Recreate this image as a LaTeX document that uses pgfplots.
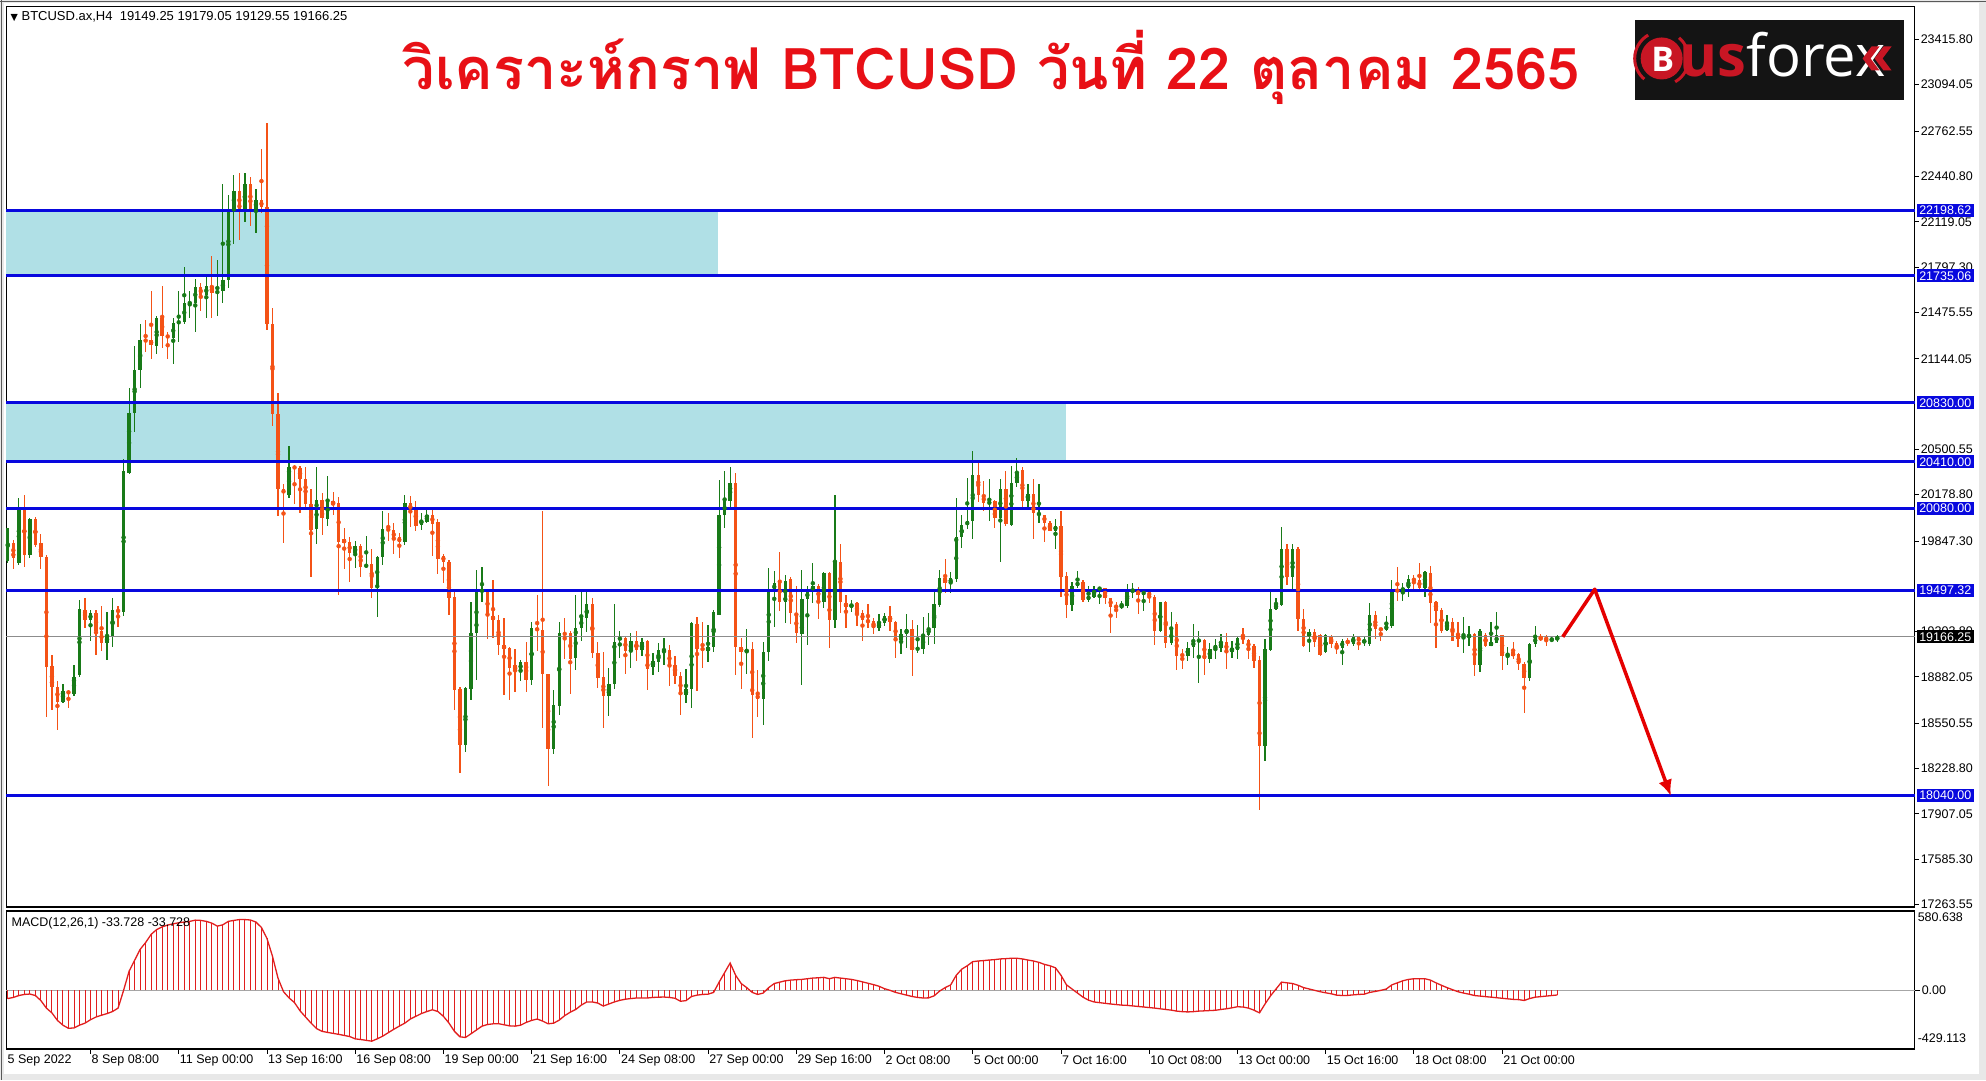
\documentclass[border=0pt]{standalone}
\usepackage{fontspec}
\setmainfont{Liberation Sans}
\newfontfamily\thaifont[Script=Thai]{Loma}
\newfontfamily\symfont{DejaVu Sans}
\newfontfamily\logofont{Open Sans}
\usepackage{graphicx}
\usepackage{pgfplots}
\pgfplotsset{compat=1.18}
\usepackage{pgfplotstable}
\usetikzlibrary{arrows.meta}

\definecolor{upc}{RGB}{24,122,24}
\definecolor{dnc}{RGB}{244,82,22}
\definecolor{lvl}{RGB}{8,8,222}
\definecolor{zone}{RGB}{176,224,230}
\definecolor{macdc}{RGB}{225,30,30}
\definecolor{titlec}{RGB}{232,16,22}
\definecolor{logored}{RGB}{200,22,36}
\definecolor{pricegray}{RGB}{140,140,140}

\newcommand{\tickfont}{\fontsize{12.5}{13}\selectfont}

% H4 candles, index 16 = 8 Sep 08:00
\pgfplotstableread{
i o h l c
1 19706 19939 19692 19939
2 19837 19852 19648 19727
3 19692 20157 19677 20070
4 20084 20172 19663 19750
5 19750 20012 19727 20003
6 20003 20018 19808 19823
7 19837 19895 19648 19733
8 19733 19748 18593 18950
9 18956 19038 18645 18811
10 18811 18849 18500 18703
11 18703 18834 18694 18782
12 18782 18790 18660 18761
13 18761 18965 18747 18878
14 18892 19430 18878 19363
15 19358 19445 19227 19285
16 19285 19358 19139 19334
17 19334 19358 19038 19206
18 19206 19387 19067 19125
19 19125 19343 19003 19169
20 19169 19445 19096 19358
21 19358 19387 19235 19343
22 19343 20433 19314 20346
23 20332 20934 20323 20759
24 20759 21233 20622 21065
25 21065 21393 20934 21277
26 21277 21422 21190 21271
27 21277 21626 21146 21242
28 21233 21451 21175 21437
29 21437 21661 21224 21306
30 21306 21335 21146 21300
31 21291 21437 21108 21399
32 21399 21626 21262 21408
33 21408 21800 21393 21538
34 21538 21626 21437 21544
35 21544 21713 21335 21655
36 21655 21684 21486 21597
37 21597 21727 21437 21661
38 21661 21873 21437 21611
39 21611 21844 21451 21626
40 21626 22388 21538 21707
41 21707 22309 21649 22207
42 22207 22454 21960 22338
43 22338 22469 21989 22207
44 22207 22469 22120 22388
45 22388 22440 22091 22207
46 22207 22353 22039 22271
47 22271 22638 22178 22222
48 22222 22824 21349 21393
49 21393 21509 20666 20753
50 20753 20904 20026 20215
51 20215 20250 19837 20186
52 20172 20526 20157 20375
53 20375 20390 20113 20367
54 20367 20381 20050 20288
55 20288 20375 20084 20113
56 20113 20215 19590 19924
57 19933 20375 19829 20137
58 20141 20189 19892 20011
59 20006 20313 19958 20134
60 20134 20194 20034 20106
61 20118 20158 19464 19844
62 19861 19939 19649 19832
63 19839 19880 19559 19761
64 19761 19849 19659 19809
65 19809 19825 19595 19666
66 19666 19880 19654 19678
67 19683 19790 19440 19516
68 19516 19742 19310 19737
69 19737 20058 19678 19935
70 19935 20046 19849 19923
71 19923 19975 19754 19863
72 19873 19904 19725 19840
73 19840 20177 19820 20118
74 20118 20165 19951 20063
75 20082 20134 19916 19958
76 19963 20046 19927 19999
77 19982 20070 19975 20034
78 20034 20070 19744 19968
79 19980 20006 19611 19721
80 19742 19754 19547 19702
81 19702 19714 19321 19440
82 19447 19483 18644 18791
83 18798 18810 18200 18394
84 18394 18810 18347 18803
85 18798 19416 18715 19191
86 19191 19642 18858 19492
87 19487 19666 19416 19500
88 19488 19500 19149 19314
89 19314 19571 19155 19286
90 19286 19321 19036 19107
91 19107 19298 18751 19079
92 19084 19095 18715 18946
93 18965 19079 18775 18922
94 18922 19000 18851 18989
95 18989 19126 18775 18858
96 18858 19269 18822 19226
97 19226 19464 19064 19214
98 19214 20058 18518 18905
99 18905 18905 18105 18370
100 18370 18787 18335 18684
101 18675 19269 18608 19191
102 19191 19298 19012 19184
103 19191 19207 18763 19012
104 19017 19466 18928 19226
105 19231 19488 19136 19298
106 19298 19483 19202 19397
107 19397 19440 19017 19048
108 19048 19131 18803 18874
109 18882 19060 18518 18744
110 18744 18941 18603 18834
111 18834 19397 18794 19131
112 19148 19207 19017 19159
113 19155 19167 18904 19064
114 19064 19190 18946 19136
115 19136 19207 18993 19072
116 19072 19160 19031 19131
117 19136 19143 18786 18936
118 18953 19048 18898 18993
119 18989 19119 18917 19072
120 19070 19160 18965 19074
121 19072 19107 18817 18953
122 18965 19031 18834 18889
123 18889 18917 18613 18751
124 18751 18936 18699 18794
125 18794 19274 18661 19262
126 19255 19309 18779 19079
127 19081 19269 18946 19077
128 19064 19250 18984 19095
129 19095 19357 19055 19340
130 19321 20284 19321 20034
131 20034 20348 19939 20130
132 20130 20372 20070 20260
133 20260 20332 18898 19096
134 19096 19155 18794 19055
135 19055 19221 18905 19079
136 19079 19126 18447 18751
137 18756 18929 18596 18722
138 18722 19126 18542 19055
139 19055 19654 18993 19492
140 19492 19635 19238 19552
141 19564 19768 19350 19416
142 19416 19607 19262 19564
143 19578 19595 19255 19333
144 19333 19531 19119 19190
145 19190 19642 18822 19435
146 19435 19531 19107 19492
147 19492 19690 19405 19531
148 19531 19540 19293 19412
149 19412 19626 19374 19618
150 19618 19626 19088 19286
151 19286 20177 19226 19702
152 19702 19825 19333 19412
153 19405 19464 19226 19381
154 19381 19428 19345 19398
155 19405 19412 19245 19326
156 19333 19357 19136 19286
157 19286 19397 19231 19269
158 19279 19302 19183 19231
159 19231 19326 19207 19262
160 19262 19333 19245 19317
161 19317 19388 19207 19269
162 19269 19279 19017 19143
163 19143 19221 19041 19190
164 19183 19326 19088 19221
165 19221 19286 18889 19072
166 19079 19250 19048 19084
167 19079 19309 19041 19178
168 19178 19333 19107 19231
169 19231 19492 19112 19397
170 19392 19642 19381 19583
171 19583 19721 19476 19547
172 19547 19630 19476 19583
173 19578 20153 19559 19873
174 19873 20034 19801 19963
175 19963 20296 19935 19987
176 19987 20486 19863 20320
177 20320 20403 20125 20172
178 20172 20272 20063 20118
179 20118 20291 19992 20122
180 20130 20141 19939 20011
181 20011 20291 19697 20220
182 20220 20344 19958 19968
183 19963 20379 19958 20260
184 20260 20439 20229 20339
185 20356 20372 20077 20134
186 20134 20253 20077 20182
187 20182 20291 19863 20046
188 20034 20253 19975 20046
189 20034 20034 19840 19975
190 19975 19992 19916 19920
191 19920 20006 19792 19958
192 19958 20058 19452 19595
193 19602 19630 19302 19393
194 19393 19559 19350 19531
195 19531 19635 19512 19554
196 19554 19571 19412 19428
197 19428 19531 19416 19459
198 19452 19531 19440 19507
199 19507 19516 19398 19512
200 19512 19516 19398 19445
201 19440 19445 19190 19381
202 19388 19416 19298 19374
203 19374 19421 19364 19393
204 19388 19540 19369 19492
205 19492 19547 19440 19500
206 19500 19524 19326 19464
207 19464 19492 19350 19492
208 19488 19500 19405 19452
209 19452 19464 19107 19207
210 19207 19416 19202 19412
211 19412 19421 19088 19119
212 19119 19345 19107 19226
213 19255 19274 18929 19031
214 19041 19083 18936 19031
215 19031 19126 18993 19088
216 19095 19255 19017 19136
217 19136 19207 18841 19143
218 19143 19150 18898 19008
219 19008 19119 18977 19079
220 19079 19150 19008 19107
221 19084 19190 19060 19131
222 19131 19190 18936 19060
223 19060 19136 19017 19084
224 19072 19167 19012 19155
225 19166 19232 19115 19150
226 19143 19150 19010 19080
227 19104 19115 18947 18994
228 19003 19027 17935 18388
229 18388 19150 18280 19080
230 19069 19493 19069 19367
231 19367 19441 19360 19400
232 19395 19950 19383 19791
233 19791 19826 19535 19593
234 19593 19826 19500 19791
235 19791 19803 19208 19290
236 19290 19367 19092 19104
237 19162 19220 19057 19204
238 19204 19220 19092 19127
239 19180 19185 19027 19034
240 19057 19185 19050 19180
241 19173 19180 19087 19115
242 19120 19134 19045 19080
243 19087 19150 18964 19139
244 19139 19157 19104 19120
245 19115 19185 19104 19162
246 19162 19166 19073 19134
247 19127 19166 19104 19139
248 19115 19406 19104 19320
249 19320 19348 19150 19220
250 19227 19232 19139 19213
251 19213 19313 19208 19250
252 19243 19570 19232 19493
253 19500 19663 19418 19490
254 19493 19546 19418 19516
255 19511 19609 19453 19581
256 19581 19609 19500 19563
257 19570 19693 19507 19516
258 19516 19632 19453 19628
259 19623 19670 19267 19406
260 19413 19423 19087 19353
261 19360 19371 19197 19208
262 19213 19320 19208 19274
263 19274 19302 19134 19139
264 19180 19274 19092 19150
265 19150 19306 19050 19173
266 19162 19243 19104 19180
267 19185 19197 18887 18964
268 18964 19220 18917 19208
269 19180 19190 19092 19104
270 19104 19274 19104 19127
271 19120 19344 19120 19180
272 19180 19180 18929 19027
273 19034 19097 18964 19045
274 19057 19127 19010 19027
275 19041 19050 18929 18971
276 18971 18987 18621 18871
277 18871 19120 18854 19115
278 19115 19243 19092 19166
279 19166 19185 19134 19143
280 19166 19180 19104 19139
281 19139 19162 19127 19157
282 19149.25 19179.05 19129.55 19166.25
}\candles

% MACD(12,26,1) histogram, one value per candle
\pgfplotstableread{
i v
1 -60
2 -52
3 -38
4 -30
5 -27
6 -38
7 -75
8 -130
9 -165
10 -220
11 -255
12 -278
13 -275
14 -255
15 -240
16 -215
17 -195
18 -182
19 -170
20 -155
21 -130
22 0
23 140
24 220
25 300
26 350
27 410
28 445
29 465
30 478
31 487
32 495
33 500
34 505
35 514
36 512
37 505
38 492
39 470
40 480
41 505
42 512
43 518
44 518
45 515
46 500
47 460
48 380
49 250
50 90
51 -10
52 -55
53 -90
54 -150
55 -195
56 -240
57 -280
58 -300
59 -308
60 -315
61 -322
62 -330
63 -338
64 -355
65 -360
66 -366
67 -372
68 -355
69 -335
70 -310
71 -285
72 -262
73 -240
74 -210
75 -190
76 -170
77 -155
78 -142
79 -155
80 -190
81 -239
82 -300
83 -340
84 -345
85 -318
86 -290
87 -262
88 -250
89 -245
90 -244
91 -252
92 -260
93 -262
94 -255
95 -235
96 -220
97 -210
98 -225
99 -245
100 -240
101 -218
102 -185
103 -160
104 -140
105 -108
106 -85
107 -85
108 -93
109 -115
110 -100
111 -85
112 -73
113 -65
114 -60
115 -56
116 -56
117 -56
118 -52
119 -50
120 -49
121 -52
122 -58
123 -80
124 -75
125 -45
126 -35
127 -30
128 -28
129 -15
130 60
131 130
132 200
133 110
134 50
135 20
136 -15
137 -30
138 -20
139 20
140 50
141 60
142 70
143 75
144 78
145 80
146 85
147 90
148 92
149 95
150 85
151 95
152 90
153 85
154 80
155 72
156 62
157 52
158 42
159 30
160 12
161 0
162 -15
163 -25
164 -35
165 -45
166 -52
167 -56
168 -55
169 -40
170 -5
171 20
172 40
173 110
174 155
175 180
176 210
177 215
178 218
179 222
180 225
181 230
182 232
183 235
184 235
185 230
186 222
187 215
188 205
189 190
190 180
191 165
192 110
193 40
194 10
195 -20
196 -50
197 -72
198 -85
199 -90
200 -95
201 -100
202 -104
203 -108
204 -110
205 -114
206 -118
207 -122
208 -126
209 -130
210 -135
211 -140
212 -145
213 -152
214 -156
215 -158
216 -156
217 -152
218 -150
219 -148
220 -146
221 -140
222 -135
223 -128
224 -120
225 -122
226 -130
227 -145
228 -165
229 -100
230 -40
231 10
232 60
233 55
234 50
235 37
236 20
237 10
238 0
239 -10
240 -18
241 -25
242 -35
243 -38
244 -37
245 -33
246 -30
247 -28
248 -15
249 -8
250 0
251 10
252 40
253 55
254 70
255 80
256 85
257 85
258 85
259 75
260 55
261 37
262 20
263 5
264 -10
265 -20
266 -28
267 -38
268 -42
269 -46
270 -50
271 -54
272 -58
273 -62
274 -66
275 -68
276 -74
277 -60
278 -50
279 -46
280 -42
281 -38
282 -34
}\macd

\tikzset{
  lvlbox/.style={anchor=west, fill=#1, text=white, font=\tickfont, inner xsep=2.5pt, inner ysep=0pt, minimum height=13pt, xshift=2pt},
}

\begin{document}
\begin{tikzpicture}
% window frame (all sizes in pt, origin at lower left of the 1986x1080 picture)
\fill[black!9] (0pt,0pt) rectangle (1986pt,1080pt);
\fill[white] (4pt,6pt) rectangle (1979pt,1077pt);
\draw[black!65, line width=1pt] (1.5pt,0pt) -- (1.5pt,1080pt);
\draw[black!65, line width=1pt] (0pt,1078.5pt) -- (1986pt,1078.5pt);

% ---------- price panel ----------
\begin{scope}[shift={(6pt,173pt)}]
\begin{axis}[
    at={(0pt,0pt)}, anchor=south west, scale only axis,
    width=1909pt, height=901pt,
    xmin=0.764, xmax=346.8, ymin=17244, ymax=23650.4,
    xtick=\empty,
    scaled y ticks=false,
    ytick pos=right, yticklabel pos=right,
    ytick={23415.80,23094.05,22762.55,22440.80,22119.05,21797.30,21475.55,21144.05,20500.55,20178.80,19847.30,19203.80,18882.05,18550.55,18228.80,17907.05,17585.30,17263.55},
    yticklabels={23415.80,23094.05,22762.55,22440.80,22119.05,21797.30,21475.55,21144.05,20500.55,20178.80,19847.30,19203.80,18882.05,18550.55,18228.80,17907.05,17585.30,17263.55},
    yticklabel style={font=\tickfont, anchor=west, inner sep=0pt, xshift=2pt},
    tick align=outside, major tick length=4pt,
    every tick/.style={black, line width=0.8pt},
    axis line style={black, line width=1.3pt},
    clip=false,
]
% supply / demand zones
\fill[zone] (axis cs:0.764,21735.06) rectangle (axis cs:129.8,22198.62);
\fill[zone] (axis cs:0.764,20410) rectangle (axis cs:192.9,20830);

% wicks
\addplot[upc, only marks, mark=none, forget plot,
    restrict expr to domain={\thisrow{c}-\thisrow{o}}{0:99999},
    error bars/y dir=both, error bars/y explicit, error bars/error mark=none,
    error bars/error bar style={line width=1.2pt, upc}]
    table[x=i, y expr={(\thisrow{h}+\thisrow{l})/2}, y error expr={(\thisrow{h}-\thisrow{l})/2}] {\candles};
\addplot[dnc, only marks, mark=none, forget plot,
    restrict expr to domain={\thisrow{c}-\thisrow{o}}{-99999:-0.001},
    error bars/y dir=both, error bars/y explicit, error bars/error mark=none,
    error bars/error bar style={line width=1.2pt, dnc}]
    table[x=i, y expr={(\thisrow{h}+\thisrow{l})/2}, y error expr={(\thisrow{h}-\thisrow{l})/2}] {\candles};
% bodies
\addplot[upc, only marks, mark=none, forget plot,
    restrict expr to domain={\thisrow{c}-\thisrow{o}}{0:99999},
    error bars/y dir=both, error bars/y explicit, error bars/error mark=none,
    error bars/error bar style={line width=3.4pt, upc}]
    table[x=i, y expr={(\thisrow{o}+\thisrow{c})/2}, y error expr={max(abs(\thisrow{c}-\thisrow{o})/2,5)}] {\candles};
\addplot[dnc, only marks, mark=none, forget plot,
    restrict expr to domain={\thisrow{c}-\thisrow{o}}{-99999:-0.001},
    error bars/y dir=both, error bars/y explicit, error bars/error mark=none,
    error bars/error bar style={line width=3.4pt, dnc}]
    table[x=i, y expr={(\thisrow{o}+\thisrow{c})/2}, y error expr={max(abs(\thisrow{c}-\thisrow{o})/2,5)}] {\candles};

% current price line
\addplot[pricegray, line width=0.9pt] coordinates {(0.764,19166.25) (346.8,19166.25)};
% horizontal levels
\addplot[lvl, line width=3pt] coordinates {(0.764,22198.62) (346.8,22198.62)};
\addplot[lvl, line width=3pt] coordinates {(0.764,21735.06) (346.8,21735.06)};
\addplot[lvl, line width=3pt] coordinates {(0.764,20830) (346.8,20830)};
\addplot[lvl, line width=3pt] coordinates {(0.764,20410) (346.8,20410)};
\addplot[lvl, line width=3pt] coordinates {(0.764,20080) (346.8,20080)};
\addplot[lvl, line width=3pt] coordinates {(0.764,19497.32) (346.8,19497.32)};
\addplot[lvl, line width=3pt] coordinates {(0.764,18040) (346.8,18040)};
% projected path
\addplot[red!90!black, line width=3.5pt, line join=round, -{Latex[length=16pt,width=14pt]}]
    coordinates {(283,19166.25) (288.8,19505) (302.6,18035)};

\coordinate (b1) at (axis cs:346.8,22198.62);
\coordinate (b2) at (axis cs:346.8,21735.06);
\coordinate (b3) at (axis cs:346.8,20830);
\coordinate (b4) at (axis cs:346.8,20410);
\coordinate (b5) at (axis cs:346.8,20080);
\coordinate (b6) at (axis cs:346.8,19497.32);
\coordinate (b7) at (axis cs:346.8,18040);
\coordinate (b8) at (axis cs:346.8,19166.25);
\end{axis}
\end{scope}

\node[lvlbox=lvl] at (b1) {22198.62};
\node[lvlbox=lvl] at (b2) {21735.06};
\node[lvlbox=lvl] at (b3) {20830.00};
\node[lvlbox=lvl] at (b4) {20410.00};
\node[lvlbox=lvl] at (b5) {20080.00};
\node[lvlbox=lvl] at (b6) {19497.32};
\node[lvlbox=lvl] at (b7) {18040.00};
\node[lvlbox=black] at (b8) {19166.25};

% header
\node[anchor=west, inner sep=0pt, font=\fontsize{13}{14}\selectfont] at (10pt,1064pt)
    {{\symfont\fontsize{9.5}{10}\selectfont ▼}\ BTCUSD.ax,H4\ \ 19149.25 19179.05 19129.55 19166.25};

% title
\node[anchor=base, inner sep=0pt] at (991pt,991pt)
    {\resizebox{1177pt}{!}{\color{titlec}\thaifont\bfseries วิเคราะห์กราฟ BTCUSD วันที่ 22 ตุลาคม 2565}};

% logo
\fill[black!92] (1635pt,980pt) rectangle (1904pt,1060pt);
\draw[logored, line width=3pt] (1662pt,1022pt) ++(120:27pt) arc (120:230:27pt);
\draw[logored, line width=3pt] (1662pt,1022pt) ++(-60:27pt) arc (-60:50:27pt);
\fill[logored] (1662pt,1022pt) circle (21pt);
\node[text=white, font=\logofont\bfseries\fontsize{34}{34}\selectfont, inner sep=0pt] at (1663pt,1021pt) {B};
\node[anchor=base west, inner sep=0pt, font=\logofont\fontsize{58}{58}\selectfont] at (1680pt,1004pt)
    {{\bfseries\color{logored}us}\color{white}forex};
\fill[logored] (1872pt,1034pt) -- (1880pt,1034pt) -- (1871pt,1022pt) -- (1880pt,1010pt) -- (1872pt,1010pt) -- (1863pt,1022pt) -- cycle;
\fill[logored] (1884pt,1034pt) -- (1892pt,1034pt) -- (1883pt,1022pt) -- (1892pt,1010pt) -- (1884pt,1010pt) -- (1875pt,1022pt) -- cycle;

% ---------- MACD panel ----------
\begin{scope}[shift={(6pt,31pt)}]
\begin{axis}[
    at={(0pt,0pt)}, anchor=south west, scale only axis,
    width=1909pt, height=138pt,
    xmin=0.764, xmax=346.8, ymin=-429.113, ymax=580.638,
    scaled y ticks=false,
    xtick={16,32,...,272},
    xticklabels={8 Sep 08:00,11 Sep 00:00,13 Sep 16:00,16 Sep 08:00,19 Sep 00:00,21 Sep 16:00,24 Sep 08:00,27 Sep 00:00,29 Sep 16:00,2 Oct 08:00,5 Oct 00:00,7 Oct 16:00,10 Oct 08:00,13 Oct 00:00,15 Oct 16:00,18 Oct 08:00,21 Oct 00:00},
    extra x ticks={0.764}, extra x tick labels={5 Sep 2022},
    extra x tick style={major tick style={draw=none}},
    xtick pos=bottom,
    xticklabel style={font=\tickfont, anchor=west, inner sep=0pt, xshift=1pt, yshift=-6pt},
    ytick={0}, yticklabels={0.00},
    ytick pos=right, yticklabel pos=right,
    yticklabel style={font=\tickfont, anchor=west, inner sep=0pt, xshift=2pt},
    tick align=outside, major tick length=5pt,
    every tick/.style={black, line width=0.8pt},
    axis line style={black, line width=1.3pt},
    clip=false,
]
\addplot[black!35, line width=0.8pt] coordinates {(0.764,0) (346.8,0)};
\addplot[ycomb, macdc, line width=0.9pt] table[x=i, y=v] {\macd};
\addplot[macdc, line width=1.3pt] table[x=i, y=v] {\macd};
\end{axis}
\end{scope}

\node[anchor=west, inner sep=0pt, font=\tickfont] at (11pt,157pt) {MACD(12,26,1) -33.728 -33.728};
\node[anchor=north west, inner sep=0pt, font=\tickfont] at (1918pt,167pt) {580.638};
\node[anchor=west, inner sep=0pt, font=\tickfont] at (1918pt,42pt) {-429.113};
\end{tikzpicture}
\end{document}
